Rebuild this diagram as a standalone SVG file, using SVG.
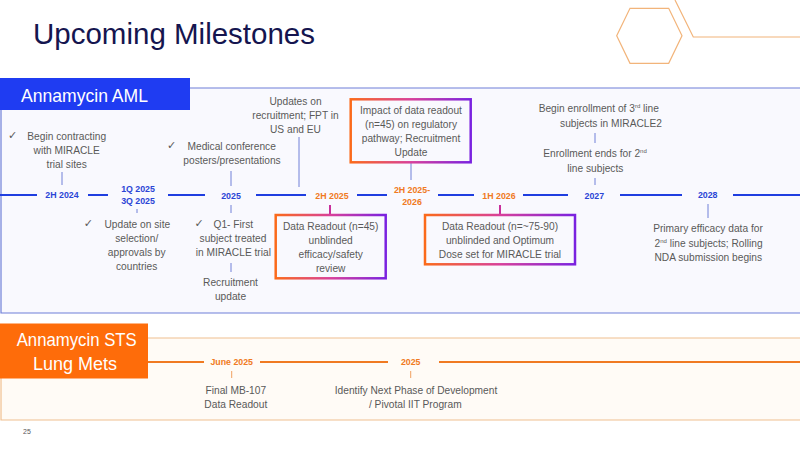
<svg xmlns="http://www.w3.org/2000/svg" width="800" height="450" viewBox="0 0 800 450">
<defs>
<linearGradient id="gb" x1="0" y1="0" x2="1" y2="0">
<stop offset="0" stop-color="#fb6a1a"/>
<stop offset="0.5" stop-color="#d8409a"/>
<stop offset="1" stop-color="#7a22e0"/>
</linearGradient>
<style>
.t{font-family:"Liberation Sans",Arial,sans-serif;font-size:10.2px;fill:#595959;text-anchor:middle}
.ck{font-family:"DejaVu Sans",sans-serif;font-size:11px;fill:#595959;text-anchor:middle}
.db{font-family:"Liberation Sans",Arial,sans-serif;font-size:8.8px;font-weight:bold;fill:#2b45d6;text-anchor:middle}
.do{font-family:"Liberation Sans",Arial,sans-serif;font-size:8.8px;font-weight:bold;fill:#f07a22;text-anchor:middle}
.tlb{stroke:#1f3ee0;stroke-width:2;fill:none}
.tlo{stroke:#f07a22;stroke-width:2;fill:none}
.tk{stroke:#7080d8;stroke-width:1;fill:none}
.tko{stroke:#f0a060;stroke-width:1;fill:none}
.tkm{stroke:#c8309c;stroke-width:2;fill:none}
.gbox{fill:none;stroke:url(#gb);stroke-width:2.5}
.hd{font-family:"Liberation Sans",Arial,sans-serif;fill:#ffffff;text-anchor:middle}
</style>
</defs>
<rect width="800" height="450" fill="#ffffff"/>
<g id="decor" fill="none" stroke="#f2b47a" stroke-width="1.2">
<polygon points="616.7,35.7 630,8.3 668.7,8.3 682,35.7 668.7,63.3 630,63.3"/>
<polyline points="675,0 693.3,37 800,37"/>
</g>
<text id="title" x="33" y="43.5" font-family="Liberation Sans,Arial,sans-serif" font-size="29.5" fill="#15154f">Upcoming Milestones</text>
<g id="aml-panel">
<rect x="1" y="88" width="800" height="225" fill="#f9f9fe"/>
<polyline points="190,88 800,88" fill="none" stroke="#6e7fd8" stroke-width="1.2"/>
<polyline points="1,110 1,313 800,313" fill="none" stroke="#6e7fd8" stroke-width="1.2"/>
<rect x="0" y="78" width="190" height="32" fill="#1f3cf2"/>
<text class="hd" x="84.5" y="102" font-size="19" textLength="127" lengthAdjust="spacingAndGlyphs">Annamycin AML</text>
</g>
<g id="sts-panel">
<rect x="1" y="338" width="800" height="82" fill="#fffbf6"/>
<polyline points="148,338 800,338" fill="none" stroke="#f0c090" stroke-width="1.2"/>
<polyline points="1,378 1,420 800,420" fill="none" stroke="#f0c090" stroke-width="1.2"/>
<rect x="0" y="323.5" width="148" height="55" fill="#fe6c0a"/>
<text class="hd" x="76.7" y="346" font-size="18" textLength="120" lengthAdjust="spacingAndGlyphs">Annamycin STS</text>
<text class="hd" x="75" y="370" font-size="18">Lung Mets</text>
</g>
<g id="connectors">
<polyline class="tlb" points="0,195 37,195"/>
<polyline class="tlb" points="88,195 108,195"/>
<polyline class="tlb" points="168,195 205,195"/>
<polyline class="tlb" points="256,195 306,195"/>
<polyline class="tlb" points="357,195 387,195"/>
<polyline class="tlb" points="438,195 474,195"/>
<polyline class="tlb" points="523,195 568,195"/>
<polyline class="tlb" points="620,195 682,195"/>
<polyline class="tlb" points="733,195 800,195"/>
<polyline class="tlo" points="148,362 204,362"/>
<polyline class="tlo" points="260,362 388,362"/>
<polyline class="tlo" points="439,362 800,362"/>
<line class="tk" x1="62" y1="172" x2="62" y2="185"/>
<line class="tk" x1="137" y1="209" x2="137" y2="213"/>
<line class="tk" x1="231" y1="171" x2="231" y2="186"/>
<line class="tk" x1="231" y1="205" x2="231" y2="213"/>
<line class="tk" x1="231" y1="263" x2="231" y2="272"/>
<line class="tk" x1="299" y1="137" x2="299" y2="187"/>
<line class="tkm" x1="330" y1="205" x2="330" y2="215"/>
<line class="tk" x1="411" y1="163" x2="411" y2="180"/>
<line class="tkm" x1="500" y1="205" x2="500" y2="215"/>
<line class="tk" x1="595" y1="133" x2="595" y2="143"/>
<line class="tk" x1="595" y1="178" x2="595" y2="185"/>
<line class="tk" x1="708" y1="204" x2="708" y2="218"/>
<line class="tko" x1="231.7" y1="371" x2="231.7" y2="378"/>
<line class="tko" x1="410.7" y1="371" x2="410.7" y2="378"/>
</g>
<g id="d-2h2024"><text class="db" x="62" y="198.2">2H 2024</text></g>
<g id="d-1q2025"><text class="db" x="138" y="192">1Q 2025</text><text class="db" x="138" y="204">3Q 2025</text></g>
<g id="d-2025"><text class="db" x="231" y="198.5">2025</text></g>
<g id="d-2h2025"><text class="do" x="332" y="198.5">2H 2025</text></g>
<g id="d-2h2025-2026"><text class="do" x="412" y="193">2H 2025-</text><text class="do" x="412" y="205">2026</text></g>
<g id="d-1h2026"><text class="do" x="499" y="198.5">1H 2026</text></g>
<g id="d-2027"><text class="db" x="594.3" y="198.5">2027</text></g>
<g id="d-2028"><text class="db" x="707.7" y="198.2">2028</text></g>
<g id="n-contracting">
<text class="ck" x="12.5" y="138.5">✓</text>
<text class="t" x="66.7" y="139.5">Begin contracting</text>
<text class="t" x="66.7" y="153.5">with MIRACLE</text>
<text class="t" x="66.7" y="167.5">trial sites</text>
</g>
<g id="n-conference">
<text class="ck" x="171.7" y="148.5">✓</text>
<text class="t" x="231.7" y="149.5">Medical conference</text>
<text class="t" x="232" y="163.5">posters/presentations</text>
</g>
<g id="n-updates">
<text class="t" x="295.5" y="104.5">Updates on</text>
<text class="t" x="295.5" y="118.5">recruitment; FPT in</text>
<text class="t" x="295.5" y="132.5">US and EU</text>
</g>
<g id="n-site">
<text class="ck" x="88.3" y="227">✓</text>
<text class="t" x="137.3" y="228">Update on site</text>
<text class="t" x="136.7" y="241.5">selection/</text>
<text class="t" x="136.7" y="255.5">approvals by</text>
<text class="t" x="136.7" y="269.5">countries</text>
</g>
<g id="n-q1">
<text class="ck" x="199" y="227">✓</text>
<text class="t" x="233.3" y="228">Q1- First</text>
<text class="t" x="233" y="241.5">subject treated</text>
<text class="t" x="233.3" y="255.5">in MIRACLE trial</text>
</g>
<g id="n-recruit">
<text class="t" x="230.5" y="285.5">Recruitment</text>
<text class="t" x="230.5" y="299.5">update</text>
</g>
<g id="n-impact">
<rect class="gbox" x="350.7" y="99.3" width="120" height="63"/>
<text class="t" x="411" y="114">Impact of data readout</text>
<text class="t" x="411" y="128">(n=45) on regulatory</text>
<text class="t" x="411" y="142">pathway; Recruitment</text>
<text class="t" x="411" y="156">Update</text>
</g>
<g id="n-readout45">
<rect class="gbox" x="275.7" y="215" width="110" height="63.3"/>
<text class="t" x="330.7" y="229.5">Data Readout (n=45)</text>
<text class="t" x="330.7" y="243.5">unblinded</text>
<text class="t" x="330.7" y="257.5">efficacy/safety</text>
<text class="t" x="330.7" y="271.5">review</text>
</g>
<g id="n-readout75">
<rect class="gbox" x="425" y="215" width="150" height="49.3"/>
<text class="t" x="500" y="229.5">Data Readout (n=~75-90)</text>
<text class="t" x="500" y="243.5">unblinded and Optimum</text>
<text class="t" x="500" y="257.5">Dose set for MIRACLE trial</text>
</g>
<g id="n-enroll3">
<text class="t" x="598.8" y="112">Begin enrollment of 3<tspan font-size="6" dy="-4">rd</tspan><tspan dy="4"> line</tspan></text>
<text class="t" x="611" y="126.5">subjects in MIRACLE2</text>
</g>
<g id="n-enroll2">
<text class="t" x="595" y="157">Enrollment ends for 2<tspan font-size="6" dy="-4">nd</tspan></text>
<text class="t" x="595.3" y="171.5">line subjects</text>
</g>
<g id="n-primary">
<text class="t" x="708" y="232">Primary efficacy data for</text>
<text class="t" x="708.6" y="246.5">2<tspan font-size="6" dy="-4">nd</tspan><tspan dy="4"> line subjects; Rolling</tspan></text>
<text class="t" x="708.3" y="260.5">NDA submission begins</text>
</g>
<g id="d-june2025"><text class="do" x="231.7" y="365">June 2025</text></g>
<g id="d-sts2025"><text class="do" x="410.7" y="365">2025</text></g>
<g id="n-mb107">
<text class="t" x="235.8" y="393.5">Final MB-107</text>
<text class="t" x="235.8" y="407.5">Data Readout</text>
</g>
<g id="n-nextphase">
<text class="t" x="416" y="393.5">Identify Next Phase of Development</text>
<text class="t" x="415.3" y="407.5">/ Pivotal IIT Program</text>
</g>
<text id="page" x="23" y="434" font-family="Liberation Sans,Arial,sans-serif" font-size="7" fill="#595959">25</text>
</svg>
